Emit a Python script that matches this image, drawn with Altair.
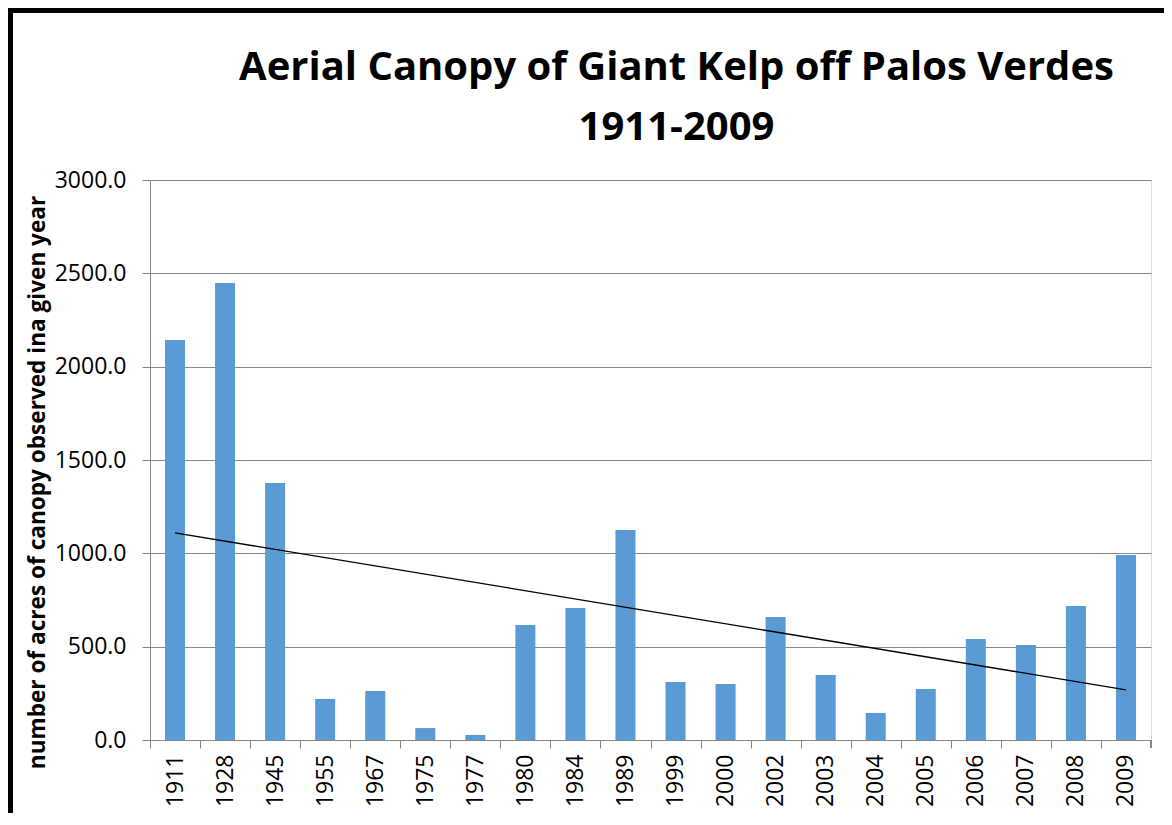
import altair as alt
import pandas as pd

years = ["1911", "1928", "1945", "1955", "1967", "1975", "1977", "1980", "1984", "1989",
         "1999", "2000", "2002", "2003", "2004", "2005", "2006", "2007", "2008", "2009"]
acres = [2143, 2448, 1377, 220, 262, 64, 27, 616, 707, 1125,
         311, 300, 659, 348, 145, 273, 541, 509, 718, 991]
y_ticks = [0, 500, 1000, 1500, 2000, 2500, 3000]

df = pd.DataFrame({"year": years, "acres": acres, "idx": list(range(1, len(years) + 1))})

FONT = "Open Sans"
GRAY = "#868686"
W, H = 1001, 560
STEP = W / len(years)

xscale = alt.Scale(domain=years, paddingInner=0.6, paddingOuter=0.3)
yscale = alt.Scale(domain=[0, 3000], nice=False)

x_axis = alt.Axis(title=None, labelAngle=270, labelFont=FONT, labelFontSize=23, labelColor="black",
                  labelPadding=6, tickSize=8, tickColor=GRAY, domainColor=GRAY,
                  bandPosition=0.5, tickOffset=-STEP / 2, labelOffset=STEP / 2, grid=False)
y_axis = alt.Axis(title="number of acres of canopy observed ina given year", values=y_ticks, format=".1f",
                  labelFont=FONT, labelFontSize=23, labelColor="black", labelPadding=16,
                  tickSize=8, tickColor=GRAY, domainColor=GRAY, gridColor=GRAY,
                  titleFont=FONT, titleFontSize=22.6, titleFontWeight="bold", titleColor="black",
                  titleAngle=270, titleAlign="center", titleBaseline="middle",
                  titleX=-113, titleY=302)

base = alt.Chart(df)

bars = base.mark_bar(color="#5B9BD5").encode(
    x=alt.X("year:N", scale=xscale, axis=x_axis, sort=years),
    y=alt.Y("acres:Q", scale=yscale, axis=y_axis),
)

trend = base.transform_regression("idx", "acres", method="linear").transform_lookup(
    lookup="idx", from_=alt.LookupData(df, key="idx", fields=["year"])
).mark_line(color="black", strokeWidth=1.3).encode(
    x=alt.X("year:N", scale=xscale, sort=years),
    y=alt.Y("acres:Q", scale=yscale),
)

end_tick = base.mark_rule(color=GRAY, strokeWidth=1).encode(
    x=alt.value(W), y=alt.value(H), y2=alt.value(H + 8)
)
left_border = base.mark_rule(color="black", strokeWidth=6).encode(
    x=alt.value(-140), y=alt.value(-173), y2=alt.value(H + 80)
)
top_border = base.mark_rule(color="black", strokeWidth=6).encode(
    x=alt.value(-143), x2=alt.value(W + 30), y=alt.value(-170)
)

chart = alt.layer(bars, trend, end_tick, left_border, top_border).properties(
    width=W, height=H,
    autosize="none",
    padding={"left": 142, "top": 172, "right": 13, "bottom": 73},
    title=alt.Title(["Aerial Canopy of Giant Kelp off Palos Verdes", "1911-2009"],
                    font=FONT, fontSize=40, fontWeight="bold", color="black",
                    anchor="middle", dx=26, lineHeight=60, offset=-176, baseline="alphabetic"),
).configure_view(strokeWidth=0).configure(background="white")

chart.save("out.html", embed_options={"renderer": "svg", "actions": False})
